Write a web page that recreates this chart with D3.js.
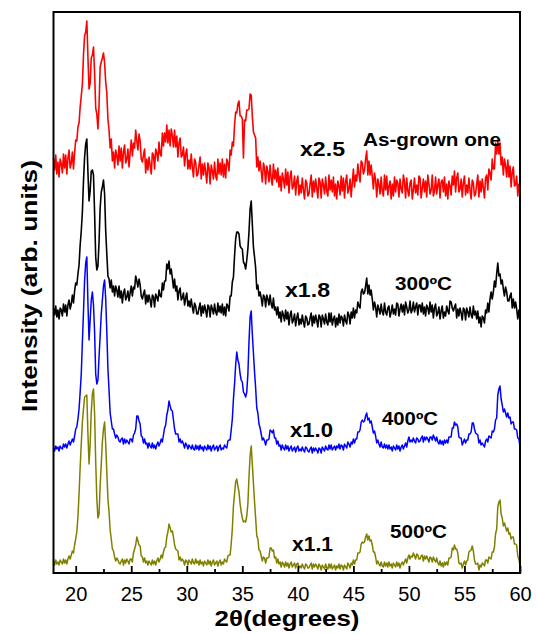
<!DOCTYPE html>
<html>
<head>
<meta charset="utf-8">
<script src="https://cdn.jsdelivr.net/npm/d3@7"></script>
<style>
  html, body { margin: 0; padding: 0; background: #fff; }
  svg { display: block; font-family: "Liberation Sans", Arial, Helvetica, sans-serif; }
</style>
</head>
<body>
<svg id="chart" width="538" height="634"></svg>
<script>
// 2θ grid: 18.0 .. 60.0 in 0.1° steps (421 points per pattern)
const twoThetaStart = 18;
const twoThetaStep = 0.1;

// Intensities (arb. units, stacked with offsets as plotted); one row = 1°
const asGrown = [
415,403,418,399,411,396,414,409,400,419,
405,418,399,415,423,405,410,421,404,420,
433,432,446,450,466,477,489,518,537,541,
552,516,484,490,515,518,526,500,465,459,
444,467,506,511,515,520,510,491,480,454,
443,425,434,412,421,405,423,417,408,427,
412,425,405,421,428,410,414,424,406,420,
433,417,430,425,443,432,423,439,432,414,
411,418,424,400,414,403,416,408,399,420,
418,404,424,420,412,431,419,417,440,427,
440,431,448,430,443,427,444,437,426,443,
426,437,416,430,435,416,418,426,407,419,
424,404,413,404,419,406,396,414,411,397,
399,408,416,394,409,398,410,401,390,410,
405,389,408,402,394,411,397,393,414,399,
410,398,414,396,409,395,414,410,402,423,
418,431,427,448,461,460,469,472,457,457,
454,415,453,452,463,463,464,479,478,457,
441,438,435,406,416,402,412,402,391,410,
405,389,407,401,391,408,394,388,409,394,
403,391,405,386,397,382,400,394,385,404,
388,401,380,396,402,384,387,397,378,392,
397,378,388,380,395,383,374,393,390,377,
379,389,398,376,392,381,394,385,375,395,
391,375,394,388,379,396,382,377,398,383,
393,381,396,377,389,374,392,387,378,397,
382,395,375,391,398,380,384,394,376,390,
404,386,398,392,409,399,391,412,410,399,
403,414,422,398,412,398,408,397,384,400,
393,376,394,388,379,396,382,377,398,383,
397,378,387,392,374,389,377,396,381,393,
390,376,394,384,380,398,391,375,395,382,
377,390,393,374,383,395,380,388,378,397,
395,375,385,394,381,392,376,398,389,379,
383,398,377,382,396,379,388,394,375,391,
393,381,396,377,389,374,392,387,378,397,
388,402,381,395,400,381,384,394,376,390,
397,378,388,380,395,383,374,393,390,377,
379,389,398,376,392,381,394,385,375,395,
398,383,404,400,393,414,404,404,430,419,
432,419,430,408,416,398,414,407,396,413,
396,407,386,401,406,387,388,397,377,389,
383];

const t300 = [
265,258,267,256,263,254,265,263,257,269,
261,268,257,268,273,264,269,278,270,282,
290,288,299,308,328,342,361,392,416,429,
434,401,372,382,402,403,398,360,316,303,
307,331,365,381,386,393,379,342,319,297,
294,285,293,281,287,277,287,283,276,287,
275,282,270,280,284,273,276,282,272,280,
287,277,286,284,297,292,286,294,288,277,
274,279,283,269,278,271,278,273,266,278,
276,266,279,276,272,283,277,276,290,283,
292,292,309,304,312,299,304,295,285,294,
282,287,273,282,285,273,275,280,268,275,
280,267,272,266,274,266,260,270,267,259,
259,265,270,257,267,260,268,263,256,268,
266,256,268,264,259,269,261,258,270,261,
267,260,269,258,266,257,269,267,262,277,
277,291,296,317,334,341,341,339,327,325,
324,311,309,304,313,324,341,364,372,349,
326,316,305,284,288,277,281,275,267,278,
276,266,278,274,268,278,269,265,275,263,
266,258,266,255,261,251,262,258,252,263,
254,261,248,258,262,250,253,259,247,255,
260,248,254,249,258,251,246,257,255,248,
249,255,260,247,257,250,258,253,246,258,
256,246,258,254,249,259,251,248,260,251,
260,248,254,257,246,255,248,259,250,257,
255,247,258,252,249,261,258,249,261,255,
265,255,263,260,271,267,265,281,284,279,
280,287,295,279,288,278,283,274,263,271,
266,256,268,264,259,269,261,258,270,261,
258,265,267,256,261,268,259,264,258,270,
269,257,264,269,261,268,258,271,266,260,
263,272,260,263,271,261,266,270,258,268,
268,261,270,259,266,257,268,265,259,271,
261,268,255,265,269,257,260,266,254,262,
267,255,261,257,267,262,259,272,271,265,
262,266,269,255,264,257,265,260,253,265,
263,253,265,261,256,266,258,255,267,258,
262,254,262,250,256,246,257,255,250,263,
260,270,261,274,281,274,281,292,286,299,
310,297,299,289,293,284,277,286,281,272,
272,277,280,265,274,265,271,264,254,263,
253];

const t400 = [
126,122,127,124,126,122,127,125,124,129,
126,129,125,129,132,128,131,134,131,137,
144,146,154,164,181,199,231,261,293,310,
316,270,233,253,273,281,268,241,199,189,
193,216,237,259,273,287,293,274,241,204,
183,160,152,144,144,139,135,138,136,132,
131,134,135,129,134,130,133,131,129,134,
134,131,138,140,144,157,157,152,149,137,
136,130,134,129,130,125,130,127,125,130,
125,128,124,128,131,127,130,134,131,138,
145,148,158,163,172,167,163,162,153,144,
139,139,139,131,134,130,132,129,125,130,
128,124,128,126,124,128,124,123,128,124,
127,123,128,124,126,122,127,125,123,128,
124,127,122,126,128,123,125,127,122,126,
128,123,125,124,128,126,125,132,133,133,
143,154,174,189,208,221,213,209,199,193,
191,181,179,176,181,199,231,256,262,239,
220,201,185,165,160,149,145,139,133,135,
132,128,133,133,134,143,142,140,143,135,
135,129,132,127,128,123,128,125,123,128,
124,127,122,125,127,122,124,126,121,125,
127,122,124,122,126,123,121,126,125,122,
121,124,126,120,125,122,125,123,120,125,
124,120,126,124,122,127,124,123,128,124,
128,123,125,127,123,127,125,129,124,128,
127,123,129,127,125,131,129,126,131,129,
134,130,134,134,141,141,143,151,153,151,
152,157,160,153,155,150,152,146,140,142,
137,130,133,129,126,131,126,125,129,125,
128,124,128,124,126,122,127,125,123,128,
124,127,122,126,128,124,127,130,126,132,
136,131,133,131,135,132,130,135,134,131,
132,135,137,131,136,133,136,134,131,136,
136,133,138,135,132,136,131,129,133,129,
132,128,133,130,133,130,136,136,136,145,
145,151,148,149,146,136,135,135,128,131,
134,130,133,133,139,139,141,150,150,144,
140,139,138,130,133,128,130,128,126,132,
134,131,137,136,135,142,141,144,153,155,
178,184,187,174,168,161,164,160,156,160,
155,156,149,151,151,144,144,143,135,134,
126];

const t500 = [
12,8,13,9,11,8,13,11,9,14,
10,13,9,14,17,14,18,22,20,28,
34,41,56,79,106,129,151,164,176,177,
178,139,109,129,161,179,184,159,111,74,
55,59,87,109,131,144,151,129,101,74,
61,43,34,24,22,16,12,15,13,10,
9,12,14,8,13,10,14,12,9,14,
14,11,20,24,28,36,32,28,27,17,
16,11,15,10,12,8,12,10,8,13,
9,12,8,12,15,11,14,18,15,21,
25,26,36,41,49,45,41,42,36,28,
24,23,22,13,16,12,14,12,8,13,
12,8,13,11,9,14,10,9,14,10,
12,8,13,9,11,7,12,10,8,13,
9,12,7,11,13,8,10,12,7,11,
13,8,11,9,14,12,11,17,18,18,
29,44,67,79,91,94,87,81,69,61,
55,51,52,51,57,69,96,117,127,109,
90,71,55,37,34,23,22,17,12,16,
15,10,15,15,16,25,25,22,23,15,
16,10,14,9,11,6,11,9,6,11,
7,10,5,9,11,6,8,10,5,9,
10,5,7,5,9,6,4,9,8,5,
5,8,10,4,9,6,9,7,4,9,
7,3,8,6,4,9,5,4,9,5,
9,4,6,8,3,7,5,9,4,8,
7,3,8,6,4,10,8,5,10,8,
13,9,13,13,20,20,21,29,31,30,
31,36,39,33,37,32,33,28,21,21,
16,9,12,9,7,11,7,6,11,7,
10,6,11,7,9,5,10,8,6,11,
7,10,5,9,11,8,11,14,10,15,
18,14,17,16,20,17,14,19,18,14,
14,17,18,12,17,14,17,14,11,16,
15,11,16,13,11,15,10,8,12,7,
10,6,11,8,11,8,15,15,16,25,
23,28,24,24,20,10,9,10,5,9,
12,8,12,13,21,22,23,27,22,13,
9,9,10,3,8,6,10,9,7,13,
13,10,16,15,14,21,21,26,39,44,
66,71,73,59,55,47,50,46,42,45,
39,40,34,36,36,29,29,28,17,14,
7];

const seriesValues = [asGrown, t300, t400, t500];
const seriesColors = ["#ff0000", "#000000", "#0000ff", "#808000"];
const seriesWidths = [1.6, 1.6, 1.5, 1.5];
const scaleLabels = ["x2.5", "x1.8", "x1.0", "x1.1"];
const sampleLabels = ["As-grown one", "300ºC", "400ºC", "500ºC"];
const majorTicks = [20, 25, 30, 35, 40, 45, 50, 55, 60];
const minorTicks = [22.5, 27.5, 32.5, 37.5, 42.5, 47.5, 52.5, 57.5];

const W = 538, H = 634;
const margin = {left: 53.5, right: 18, top: 12, bottom: 61};
const svg = d3.select("#chart");

const x = d3.scaleLinear().domain([18, 60]).range([margin.left, W - margin.right]);
const y = d3.scaleLinear().domain([0, 561]).range([H - margin.bottom, margin.top]);

const line = d3.line()
  .x((d, i) => x(twoThetaStart + i * twoThetaStep))
  .y(d => y(d));

const g = svg.append("g");
seriesValues.forEach((vals, k) => {
  g.append("path")
    .datum(vals)
    .attr("fill", "none")
    .attr("stroke", seriesColors[k])
    .attr("stroke-width", seriesWidths[k])
    .attr("stroke-linejoin", "round")
    .attr("d", line);
});

// frame
svg.append("rect")
  .attr("x", x(18)).attr("y", y(561))
  .attr("width", x(60) - x(18)).attr("height", y(0) - y(561))
  .attr("fill", "none").attr("stroke", "#000").attr("stroke-width", 2);

// x axis
const axis = svg.append("g").attr("transform", `translate(0,${y(0)})`)
  .call(d3.axisBottom(x).tickValues(majorTicks).tickSizeInner(-7).tickSizeOuter(0)
    .tickPadding(14).tickFormat(d3.format("d")));
axis.select(".domain").remove();
axis.selectAll(".tick line").attr("stroke", "#000").attr("stroke-width", 1.8);
axis.selectAll(".tick text").attr("font-size", 20).attr("fill", "#000")
  .attr("font-family", '"Liberation Sans", Arial, sans-serif');

const minor = svg.append("g").attr("transform", `translate(0,${y(0)})`)
  .call(d3.axisBottom(x).tickValues(minorTicks).tickSizeInner(-4).tickSizeOuter(0).tickFormat(""));
minor.select(".domain").remove();
minor.selectAll(".tick line").attr("stroke", "#000").attr("stroke-width", 1.8);

// axis titles
svg.append("text")
  .attr("x", 287).attr("y", 626)
  .attr("text-anchor", "middle")
  .attr("font-size", 22).attr("font-weight", "bold")
  .attr("textLength", 145).attr("lengthAdjust", "spacingAndGlyphs")
  .text("2θ(degrees)");

svg.append("text")
  .attr("transform", "translate(37,286) rotate(-90)")
  .attr("text-anchor", "middle")
  .attr("font-size", 22).attr("font-weight", "bold")
  .attr("textLength", 252).attr("lengthAdjust", "spacingAndGlyphs")
  .text("Intensity (arb. units)");

// annotations
const scalePos = [[300, 156, 45], [285, 297, 45], [290, 437, 43], [292, 551, 41]];
const samplePos = [[363, 146, 138], [395, 290, 57], [382, 425, 56], [390, 538, 57]];
scaleLabels.forEach((t, k) => {
  svg.append("text")
    .attr("x", scalePos[k][0]).attr("y", scalePos[k][1])
    .attr("font-size", 19.5).attr("font-weight", "bold")
    .attr("textLength", scalePos[k][2]).attr("lengthAdjust", "spacingAndGlyphs")
    .text(t);
});
sampleLabels.forEach((t, k) => {
  svg.append("text")
    .attr("x", samplePos[k][0]).attr("y", samplePos[k][1])
    .attr("font-size", 18).attr("font-weight", "bold")
    .attr("textLength", samplePos[k][2]).attr("lengthAdjust", "spacingAndGlyphs")
    .text(t);
});
</script>
</body>
</html>
